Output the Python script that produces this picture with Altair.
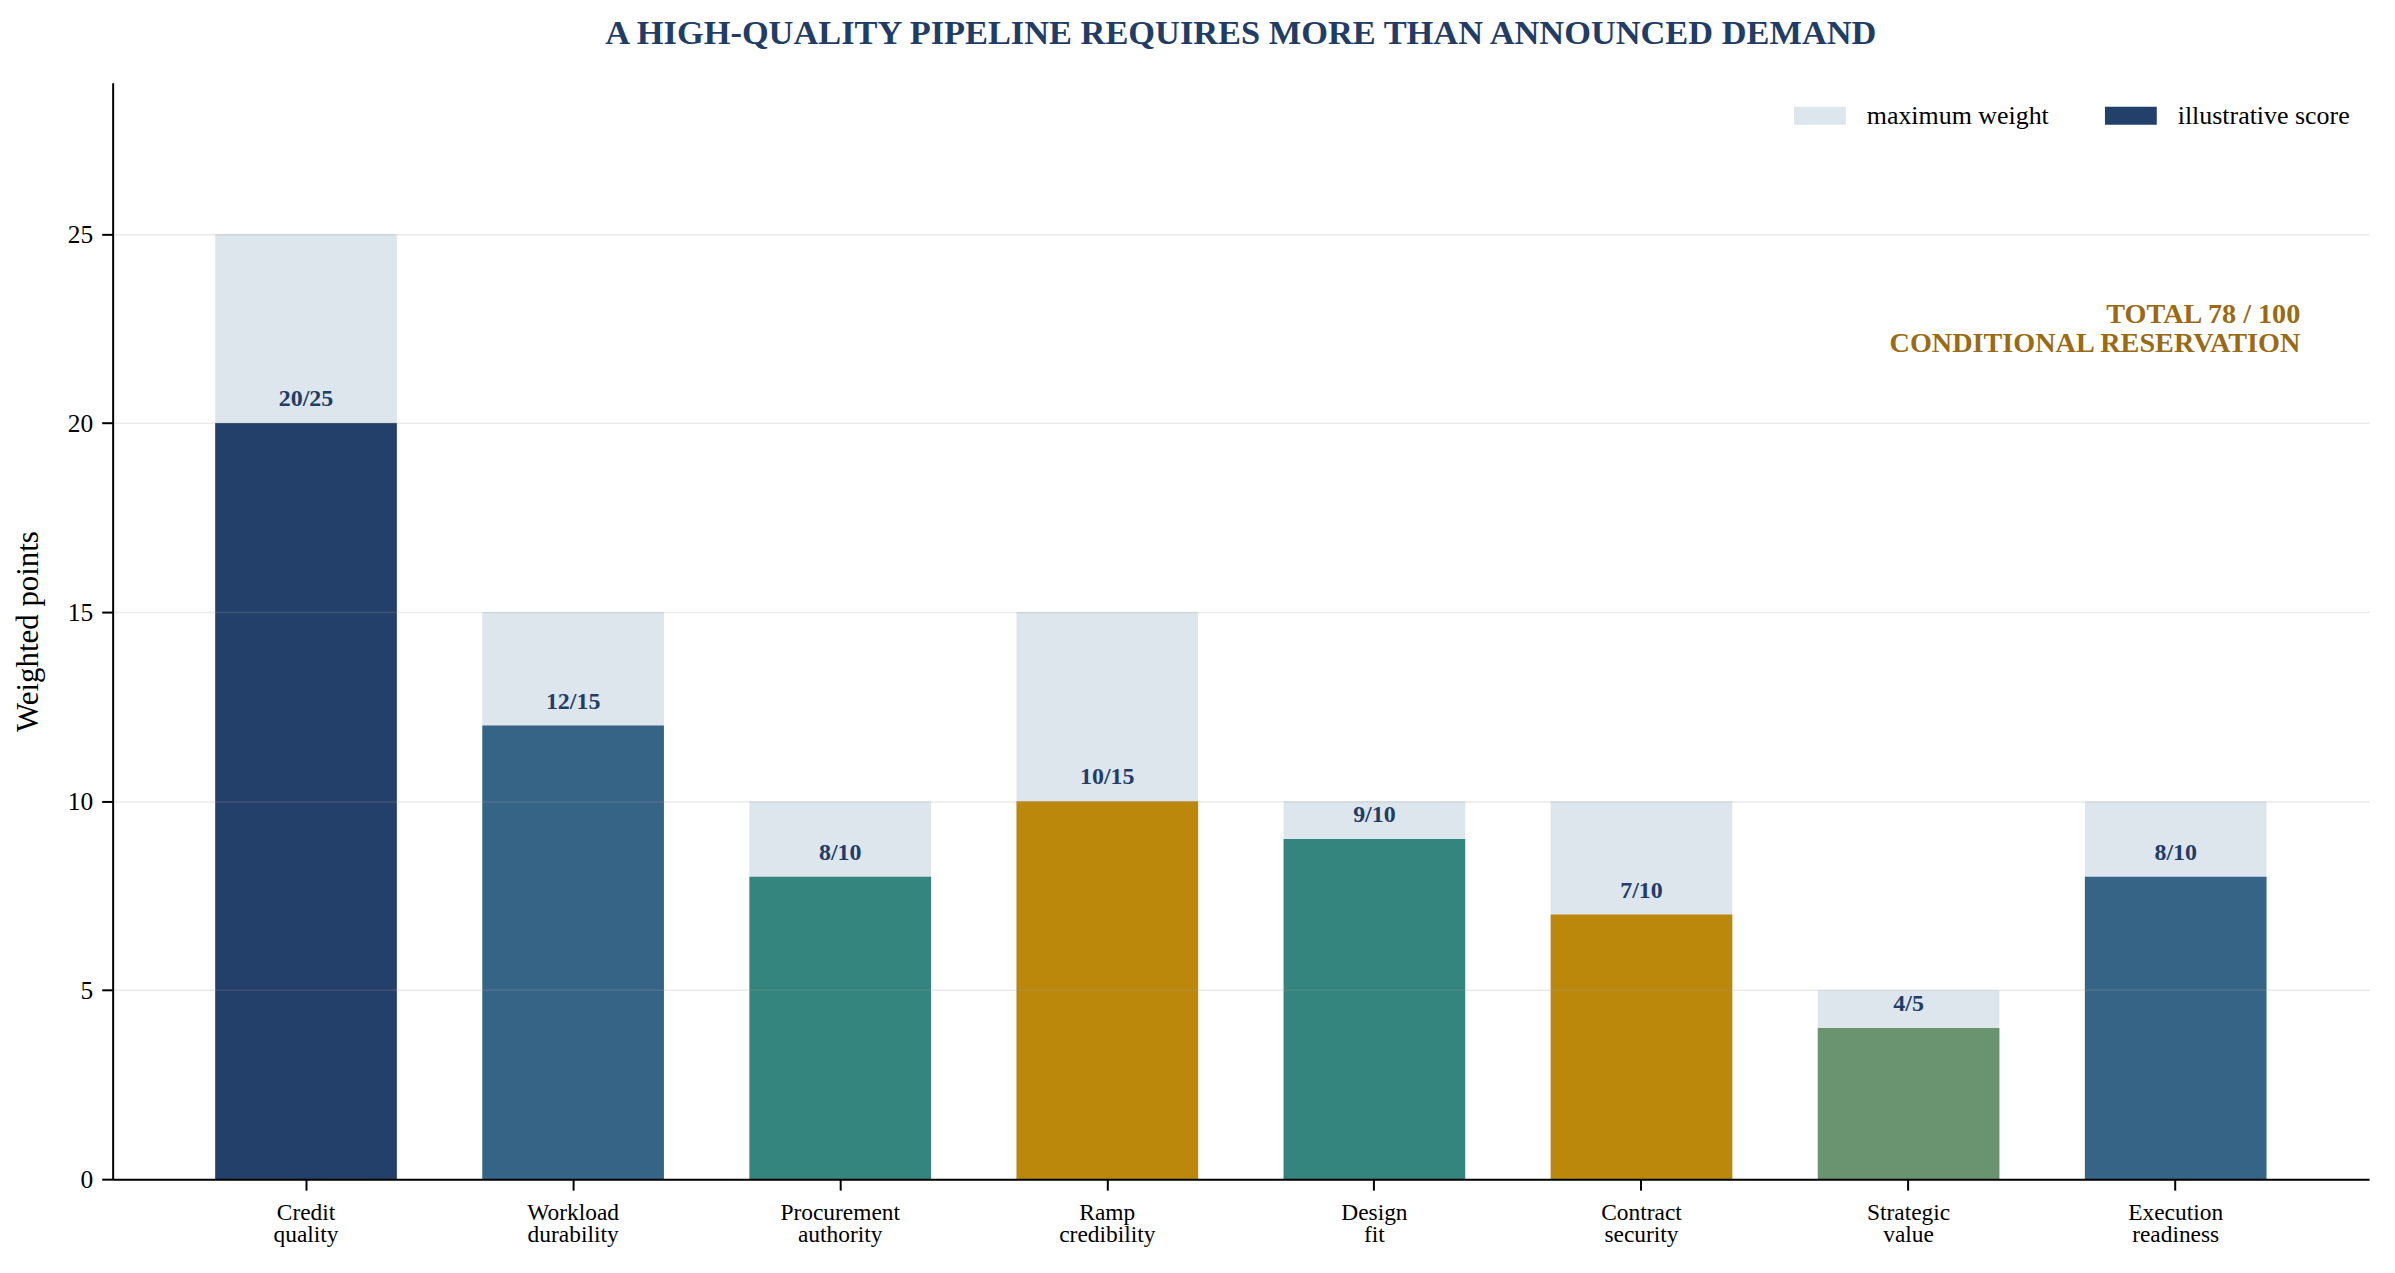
import altair as alt
import pandas as pd

# ---- data ----
categories = ["Credit quality", "Workload durability", "Procurement authority", "Ramp credibility",
              "Design fit", "Contract security", "Strategic value", "Execution readiness"]
max_weight = [25, 15, 10, 15, 10, 10, 5, 10]
score = [20, 12, 8, 10, 9, 7, 4, 8]
bar_colors = ["#22406a", "#366487", "#34857e", "#bc880c", "#34857e", "#bc880c", "#6a9470", "#366487"]
legend_labels = ["maximum weight", "illustrative score"]
legend_colors = ["#dde5ed", "#22406a"]
y_ticks = [0, 5, 10, 15, 20, 25]
total_lines = ["TOTAL 78 / 100", "CONDITIONAL RESERVATION"]
title_text = "A HIGH-QUALITY PIPELINE REQUIRES MORE THAN ANNOUNCED DEMAND"

FONT = "Liberation Serif"
NAVY_TEXT = "#1f3d66"

df = pd.DataFrame({"category": categories, "max_weight": max_weight, "score": score})
df["label"] = df["score"].astype(str) + "/" + df["max_weight"].astype(str)
df["series"] = legend_labels[0]

x_enc = alt.X(
    "category:N",
    sort=categories,
    scale=alt.Scale(paddingInner=0.32, paddingOuter=0.384),
    axis=alt.Axis(
        title=None, labelAngle=0, labelExpr="split(datum.label, ' ')",
        labelFontSize=23.5, labelLineHeight=23, labelPadding=10, tickSize=11,
        grid=False, zindex=1,
    ),
)

y_axis = alt.Axis(
    values=y_ticks, title="Weighted points", grid=True, zindex=1,
    labelFontSize=25.5, labelPadding=9, tickSize=11,
    titleFontSize=31, titleFontWeight="normal", titleColor="black",
    titleX=-68, titleY=550, titleAngle=-90, titleBaseline="bottom", titleAlign="center",
    gridColor="#a0a0a0", gridOpacity=0.22, gridWidth=1.5,
)
y_scale = alt.Scale(domain=[0, 29], nice=False)

base = alt.Chart(df)

max_bars = base.mark_bar().encode(
    x=x_enc,
    y=alt.Y("max_weight:Q", scale=y_scale, axis=y_axis),
    fill=alt.Fill(
        "series:N",
        scale=alt.Scale(domain=legend_labels, range=legend_colors),
        legend=alt.Legend(
            title=None, orient="none", legendX=1687, legendY=7, direction="horizontal",
            symbolType="M-1,-0.35H1V0.35H-1Z", symbolSize=2704, symbolStrokeWidth=0,
            symbolOpacity=1, labelFontSize=26, labelFont=FONT, labelColor="black",
            labelOffset=21, columnPadding=56, padding=0, labelLimit=500,
        ),
    ),
)

score_bars = base.mark_bar().encode(
    x=x_enc,
    y=alt.Y("score:Q", scale=y_scale, axis=y_axis),
    color=alt.Color("category:N", scale=alt.Scale(domain=categories, range=bar_colors), legend=None),
)

labels = base.mark_text(
    font=FONT, fontSize=24, fontWeight="bold", color=NAVY_TEXT,
    baseline="alphabetic", align="center", dy=-17,
).encode(
    x=x_enc,
    y=alt.Y("score:Q", scale=y_scale, axis=y_axis),
    text="label:N",
)

annot = alt.Chart(pd.DataFrame({"t": ["\n".join(total_lines)]})).mark_text(
    font=FONT, fontSize=28.3, fontWeight="bold", color="#9a6a14",
    align="right", baseline="alphabetic", lineBreak="\n", lineHeight=29,
).encode(
    x=alt.value(2195), y=alt.value(241), text="t:N",
)

chart = alt.layer(max_bars, score_bars, labels, annot).properties(
    width=2264, height=1100,
    autosize=alt.AutoSizeParams(type="none"),
    padding={"left": 105, "top": 73, "right": 18, "bottom": 80},
    title=alt.TitleParams(
        text=title_text, font=FONT, fontSize=34.5, fontWeight="bold", color=NAVY_TEXT,
        anchor="middle", baseline="alphabetic", offset=4,
    ),
).configure_view(strokeOpacity=0).configure_axis(
    labelFont=FONT, titleFont=FONT, labelColor="black",
    domainColor="black", domainWidth=2, tickColor="black", tickWidth=2,
).configure_text(font=FONT)

chart.save("out.html", embed_options={"renderer": "svg", "actions": False})
